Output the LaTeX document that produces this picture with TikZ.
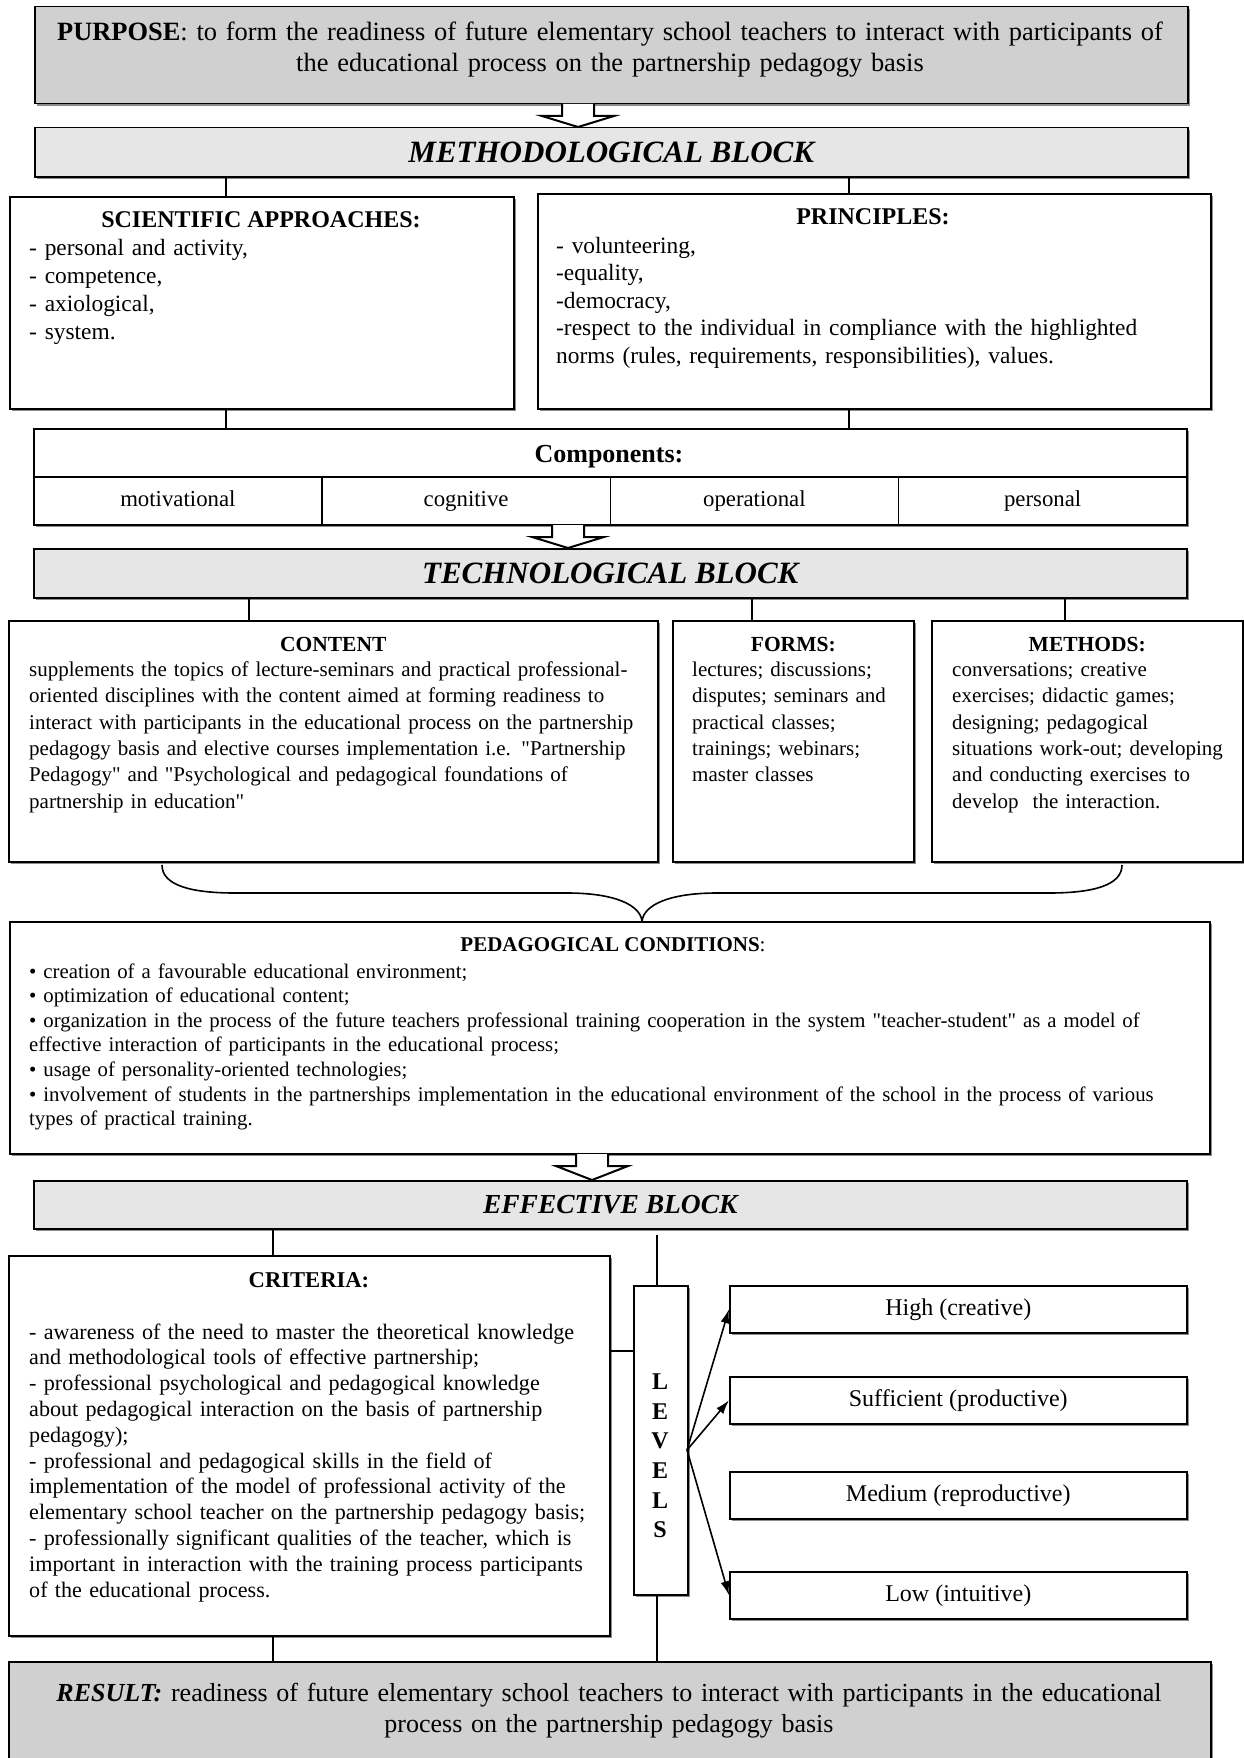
\documentclass[tikz,border=0pt]{standalone}
\usepackage{fontspec}
\setmainfont{Liberation Serif}[Ligatures=TeXOff]
\usetikzlibrary{arrows.meta,shadows}
\definecolor{purposegray}{RGB}{208,208,208}
\definecolor{blockgray}{RGB}{230,230,230}
\newcommand{\setfs}[2]{\fontsize{#1pt}{#2pt}\selectfont}
\newcommand{\hollowarrow}[3]{%
  \draw[hollow] (#1-16,#2+1) -- (#1-16,#2+13) -- (#1-36,#2+13) -- (#1,#3)
    -- (#1+36,#2+13) -- (#1+16,#2+13) -- (#1+16,#2+1);}

\begin{document}
\begin{tikzpicture}[x=1pt,y=-1pt,>=Latex,
    box/.style={draw,line width=1.5pt,fill=white,inner sep=0pt,anchor=north west,
      drop shadow={shadow xshift=2pt,shadow yshift=-2pt,fill=black!45,opacity=1}},
    blockhead/.style={box,fill=blockgray,font=\bfseries\itshape\setfs{31}{36}},
    link/.style={line width=1.2pt},
    hollow/.style={line width=2pt,fill=white},
    title/.style={anchor=base,inner sep=0pt,font=\bfseries\setfs{24}{28}},
    listtext/.style={anchor=base west,inner sep=0pt,align=left,text width=#1},
    level/.style={box,minimum width=457pt,minimum height=47pt,text height=17pt,text depth=5pt,font=\setfs{24}{28}}]

    \useasboundingbox (0,0) rectangle (1244,1758);

    % Purpose
    \node[box,fill=purposegray,minimum width=1153pt,minimum height=97pt] (purpose) at (34,6) {};
    \node[anchor=base,inner sep=0pt,text width=1150pt,align=center,font=\setfs{26.4}{31}] (purpose-txt) at (610,41)
      {\textbf{PURPOSE}: to form the readiness of future elementary school teachers to interact with participants of\\
       the educational process on the partnership pedagogy basis};
    \hollowarrow{578}{103}{127}

    % Methodological block
    \node[blockhead,minimum width=1153pt,minimum height=49pt] (meth) at (34,127) {METHODOLOGICAL BLOCK};

    \node[box,minimum width=504pt,minimum height=212pt] (sci) at (9,196) {};
    \node[title] (sci-title) at (261,227) {SCIENTIFIC APPROACHES:};
    \node[listtext=460pt,font=\setfs{23.4}{28}] (sci-txt) at (29,255)
      {- personal and activity,\\- competence,\\- axiological,\\- system.};

    \node[box,minimum width=673pt,minimum height=215pt] (prin) at (537,193) {};
    \node[title] (prin-title) at (873,224) {PRINCIPLES:};
    \node[listtext=640pt,font=\setfs{23.4}{27.5}] (prin-txt) at (556,253)
      {- volunteering,\\-equality,\\-democracy,\\
       -respect to the individual in compliance with the highlighted\\
       norms (rules, requirements, responsibilities), values.};

    % Components
    \node[box,minimum width=1153pt,minimum height=48pt] (comp) at (33,428) {};
    \node[title,font=\bfseries\setfs{26}{30}] (comp-title) at (609,462) {Components:};
    \foreach \name [count=\i] in {motivational,cognitive,operational,personal}
      \node[box,minimum width=288.25pt,minimum height=48pt,text height=16pt,text depth=5pt,font=\setfs{22.8}{26}]
        (cell\i) at ({33+288.25*(\i-1)},476) {\name};

    \coordinate (lA) at (226,0);
    \coordinate (lB) at (849,0);
    \draw[link] (meth.south -| lA) -- (sci.north -| lA);
    \draw[link] (meth.south -| lB) -- (prin.north -| lB);
    \draw[link] (sci.south -| lA) -- (comp.north -| lA);
    \draw[link] (prin.south -| lB) -- (comp.north -| lB);
    \hollowarrow{568}{524}{548}

    % Technological block
    \node[blockhead,minimum width=1153pt,minimum height=49pt] (tech) at (33,548) {TECHNOLOGICAL BLOCK};

    \node[box,minimum width=649pt,minimum height=241pt] (content) at (8,620) {};
    \node[title,font=\bfseries\setfs{21.5}{26.3}] (content-title) at (content.north |- 0,651) {CONTENT};
    \node[listtext=640pt,font=\setfs{21}{26.3}] (content-txt) at (29,676.5)
      {supplements the topics of lecture-seminars and practical professional-\\
       oriented disciplines with the content aimed at forming readiness to\\
       interact with participants in the educational process on the partnership\\
       pedagogy basis and elective courses implementation i.e. "Partnership\\
       Pedagogy" and "Psychological and pedagogical foundations of\\
       partnership in education"};

    \node[box,minimum width=241pt,minimum height=241pt] (forms) at (672,620) {};
    \node[title,font=\bfseries\setfs{21.5}{26.3}] (forms-title) at (forms.north |- 0,651) {FORMS:};
    \node[listtext=230pt,font=\setfs{21}{26.3}] (forms-txt) at (692,676.5)
      {lectures; discussions;\\disputes; seminars and\\practical classes;\\trainings; webinars;\\master classes};

    \node[box,minimum width=311pt,minimum height=241pt] (methods) at (931,620) {};
    \node[title,font=\bfseries\setfs{21.5}{26.3}] (methods-title) at (methods.north |- 0,651) {METHODS:};
    \node[listtext=290pt,font=\setfs{21}{26.3}] (methods-txt) at (952,676.5)
      {conversations; creative\\exercises; didactic games;\\designing; pedagogical\\
       situations work-out; developing\\and conducting exercises to\\develop\ \ the interaction.};

    \coordinate (lC) at (249,0);
    \coordinate (lD) at (752,0);
    \coordinate (lF) at (1065,0);
    \draw[link] (tech.south -| lC) -- (content.north -| lC);
    \draw[link] (tech.south -| lD) -- (forms.north -| lD);
    \draw[link] (tech.south -| lF) -- (methods.north -| lF);

    % Brace
    \draw[line width=1.6pt] (162,865) .. controls (162,885) and (190,893) .. (235,893) -- (567,893)
      .. controls (615,893) and (640,905) .. (642,921)
      .. controls (644,905) and (669,893) .. (717,893) -- (1049,893)
      .. controls (1094,893) and (1122,885) .. (1122,865);

    % Pedagogical conditions
    \node[box,minimum width=1200pt,minimum height=232pt] (ped) at (9,921) {};
    \node[anchor=base,inner sep=0pt,font=\setfs{21}{24.6}] (ped-title) at (613,951)
      {\textbf{PEDAGOGICAL CONDITIONS}:};
    \node[listtext=1180pt,font=\setfs{20.8}{24.6}] (ped-txt) at (29,978)
      {• creation of a favourable educational environment;\\
       • optimization of educational content;\\
       • organization in the process of the future teachers professional training cooperation in the system "teacher-student" as a model of\\
       effective interaction of participants in the educational process;\\
       • usage of personality-oriented technologies;\\
       • involvement of students in the partnerships implementation in the educational environment of the school in the process of various\\
       types of practical training.};
    \hollowarrow{592}{1153}{1180}

    % Effective block
    \node[blockhead,minimum width=1153pt,minimum height=48pt,font=\bfseries\itshape\setfs{27.5}{32}] (eff) at (33,1180) {EFFECTIVE BLOCK};

    \node[box,minimum width=601pt,minimum height=380pt] (crit) at (8,1255) {};
    \node[title,font=\bfseries\setfs{22.6}{25.8}] (crit-title) at (309,1287) {CRITERIA:};
    \node[listtext=590pt,font=\setfs{22.1}{25.8}] (crit-txt) at (29,1339)
      {- awareness of the need to master the theoretical knowledge\\
       and methodological tools of effective partnership;\\
       - professional psychological and pedagogical knowledge\\
       about pedagogical interaction on the basis of partnership\\
       pedagogy);\\
       - professional and pedagogical skills in the field of\\
       implementation of the model of professional activity of the\\
       elementary school teacher on the partnership pedagogy basis;\\
       - professionally significant qualities of the teacher, which is\\
       important in interaction with the training process participants\\
       of the educational process.};

    % Levels
    \node[box,minimum width=54pt,minimum height=309pt] (levels) at (633,1285) {};
    \node[align=center,inner sep=0pt,font=\bfseries\setfs{24}{29.6}] (levels-txt) at (660,1456) {L\\E\\V\\E\\L\\S};

    \node[level] (high) at (729,1285) {High (creative)};
    \node[level] (suff) at (729,1376) {Sufficient (productive)};
    \node[level] (med) at (729,1471) {Medium (reproductive)};
    \node[level] (low) at (729,1571) {Low (intuitive)};

    \coordinate (fan) at (687,1450);
    \draw[-{Latex[length=14pt,width=9pt]},line width=1.6pt] (fan) -- (high.west);
    \draw[-{Latex[length=14pt,width=9pt]},line width=1.6pt] (fan) -- (suff.west);
    \draw[-{Latex[length=14pt,width=9pt]},line width=1.6pt] (fan) -- (low.west);

    % Result
    \node[box,fill=purposegray,minimum width=1202pt,minimum height=104pt] (result) at (8,1661) {};
    \node[anchor=base,inner sep=0pt,text width=1190pt,align=center,font=\setfs{26}{31.5}] (result-txt) at (609,1701)
      {\textbf{\textit{RESULT:}} readiness of future elementary school teachers to interact with participants in the educational\\
       process on the partnership pedagogy basis};

    \coordinate (lE) at (273,0);
    \coordinate (lG) at (657,0);
    \coordinate (critmid) at (0,1351);
    \draw[link] (eff.south -| lE) -- (crit.north -| lE);
    \draw[link] (crit.south -| lE) -- (result.north -| lE);
    \draw[link] (crit.east |- critmid) -- (levels.west |- critmid);
    \draw[link,shorten <=5pt] (eff.south -| lG) -- (levels.north -| lG);
    \draw[link] (levels.south -| lG) -- (result.north -| lG);
\end{tikzpicture}
\end{document}
